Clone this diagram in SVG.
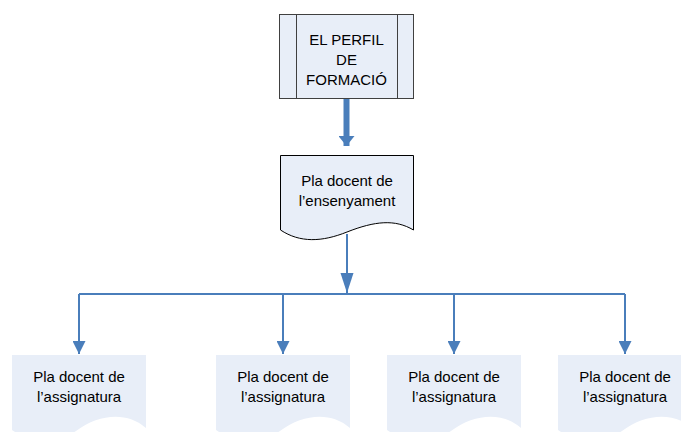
<svg xmlns="http://www.w3.org/2000/svg" width="681" height="432" viewBox="0 0 681 432">
<style>
.t{font-family:"Liberation Sans",Arial,sans-serif;font-size:15px;fill:#000;text-anchor:middle}
.box{fill:#e8eef8;stroke:#404040;stroke-width:1}
.doc{fill:#e8eef8;stroke:#000;stroke-width:1}
.sdoc{fill:#e8eef8;stroke:none}
.c{fill:none;stroke:#4a7ebb;stroke-width:2}
.ct{fill:none;stroke:#4a7ebb;stroke-width:6}
</style>
<defs>
<marker id="ah" markerUnits="userSpaceOnUse" markerWidth="14" markerHeight="13" refX="13" refY="6.5" orient="auto">
<path d="M0,0 L13,6.5 L0,13 Z" fill="#4a7ebb"/>
</marker>
<marker id="ahl" markerUnits="userSpaceOnUse" markerWidth="21" markerHeight="14" refX="20" refY="6.5" orient="auto">
<path d="M0,0 L20,6.5 L0,13 Z" fill="#4a7ebb"/>
</marker>
<marker id="ahw" markerUnits="userSpaceOnUse" markerWidth="11" markerHeight="16" refX="10" refY="8" orient="auto">
<path d="M0,0 L10,8 L0,16 Z" fill="#4a7ebb"/>
</marker>
</defs>
<rect width="681" height="432" fill="#fff"/>
<g id="connectors">
<path class="ct" d="M346.5,99 V146" marker-end="url(#ahw)"/>
<path class="c" d="M347,234 V293" marker-end="url(#ahl)"/>
<path class="c" d="M79,294 H625"/>
<path class="c" d="M79,294 V354" marker-end="url(#ah)"/>
<path class="c" d="M283,294 V354" marker-end="url(#ah)"/>
<path class="c" d="M454,294 V354" marker-end="url(#ah)"/>
<path class="c" d="M625,294 V354" marker-end="url(#ah)"/>
</g>
<g id="perfil">
<rect class="box" x="279.5" y="14.5" width="134" height="84"/>
<line x1="296.5" y1="14.5" x2="296.5" y2="98.5" stroke="#404040"/>
<line x1="397.5" y1="14.5" x2="397.5" y2="98.5" stroke="#404040"/>
<text class="t" x="346.5" y="45">EL PERFIL</text>
<text class="t" x="346.5" y="65">DE</text>
<text class="t" x="346.5" y="85">FORMACIÓ</text>
</g>
<g id="ensenyament">
<path class="doc" d="M280.5,155.5 H413.5 V230 C395,219 375,221 347,232 C322,242 300,243 280.5,230 Z"/>
<text class="t" x="347" y="186">Pla docent de</text>
<text class="t" x="347" y="206">l’ensenyament</text>
</g>
<g id="assig1">
<path class="sdoc" d="M12,355 H146 V428 C128,412 100,413 76,431 C55,444 32,444 12,430 Z"/>
<text class="t" x="79" y="382">Pla docent de</text>
<text class="t" x="79" y="402">l’assignatura</text>
</g>
<g id="assig2">
<path class="sdoc" d="M216,355 H350 V428 C332,412 304,413 280,431 C259,444 236,444 216,430 Z"/>
<text class="t" x="283" y="382">Pla docent de</text>
<text class="t" x="283" y="402">l’assignatura</text>
</g>
<g id="assig3">
<path class="sdoc" d="M387,355 H521 V428 C503,412 475,413 451,431 C430,444 407,444 387,430 Z"/>
<text class="t" x="454" y="382">Pla docent de</text>
<text class="t" x="454" y="402">l’assignatura</text>
</g>
<g id="assig4">
<path class="sdoc" d="M558,355 H692 V428 C674,412 646,413 622,431 C601,444 578,444 558,430 Z"/>
<text class="t" x="625" y="382">Pla docent de</text>
<text class="t" x="625" y="402">l’assignatura</text>
</g>
</svg>
